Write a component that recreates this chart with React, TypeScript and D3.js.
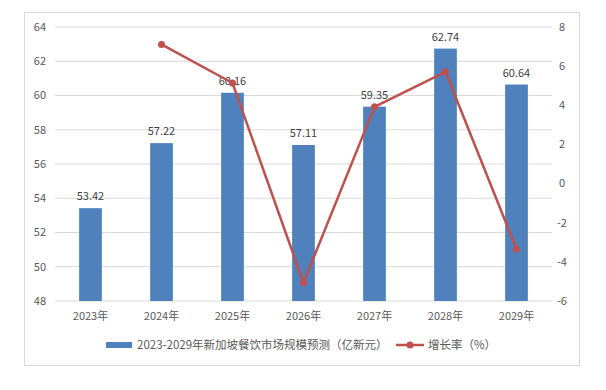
import React from "react";
import * as d3 from "d3";

const categories = ["2023年", "2024年", "2025年", "2026年", "2027年", "2028年", "2029年"];
const marketSize = [53.42, 57.22, 60.16, 57.11, 59.35, 62.74, 60.64];
const growthRate: (number | null)[] = [null, 7.11, 5.14, -5.07, 3.92, 5.71, -3.35];
const leftTicks = [48, 50, 52, 54, 56, 58, 60, 62, 64];
const rightTicks = [-6, -4, -2, 0, 2, 4, 6, 8];
const barLegend = "2023-2029年新加坡餐饮市场规模预测（亿新元）";
const lineLegend = "增长率（%）";

const W = 606;
const H = 390;
const FONT = "'Microsoft YaHei', 'Noto Sans CJK SC', sans-serif";
const TEXT = "#595959";
const BAR = "#4F81BD";
const LINE = "#C0504D";
const GRID = "#D9D9D9";

export default function App() {
  const left = 55, right = 552, top = 27, bottom = 301;
  const x = d3.scaleBand<string>().domain(categories).range([left, right]).paddingInner(0.68).paddingOuter(0.34);
  const yL = d3.scaleLinear().domain([48, 64]).range([bottom, top]);
  const yR = d3.scaleLinear().domain([-6, 8]).range([bottom, top]);
  const cx = (c: string) => (x(c) ?? 0) + x.bandwidth() / 2;
  const pts = categories
    .map((c, i) => ({ c, v: growthRate[i] }))
    .filter((d) => d.v !== null) as { c: string; v: number }[];
  const line = d3.line<{ c: string; v: number }>().x((d) => cx(d.c)).y((d) => yR(d.v));

  return (
    <svg width={W} height={H} style={{ position: "absolute", left: 0, top: 0, background: "#fff" }} fontFamily={FONT}>
      <rect x={24.5} y={12.5} width={555} height={353} fill="#fff" stroke={GRID} />
      {leftTicks.map((t) => (
        <g key={t}>
          <line x1={left} x2={right} y1={yL(t)} y2={yL(t)} stroke={GRID} strokeWidth={1} />
          <text x={46} y={yL(t)} dy="0.35em" textAnchor="end" fontSize={11} fill={TEXT}>{t}</text>
        </g>
      ))}
      {rightTicks.map((t) => (
        <text key={t} x={562} y={yR(t)} dy="0.35em" textAnchor="middle" fontSize={11} fill={TEXT}>{t}</text>
      ))}
      {categories.map((c, i) => (
        <g key={c}>
          <rect x={x(c)} y={yL(marketSize[i])} width={x.bandwidth()} height={bottom - yL(marketSize[i])} fill={BAR} />
          <text x={cx(c)} y={yL(marketSize[i]) - 8} textAnchor="middle" fontSize={11} fill="#404040">{marketSize[i].toFixed(2)}</text>
          <text x={cx(c)} y={bottom + 19} textAnchor="middle" fontSize={11} fill={TEXT}>{c}</text>
        </g>
      ))}
      <path d={line(pts) ?? ""} fill="none" stroke={LINE} strokeWidth={2.5} strokeLinejoin="round" />
      {pts.map((d) => (
        <circle key={d.c} cx={cx(d.c)} cy={yR(d.v)} r={3.5} fill={LINE} />
      ))}
      <g>
        <rect x={106} y={342} width={26} height={6} fill={BAR} />
        <text x={137} y={345} dy="0.35em" fontSize={11.5} fill={TEXT}>{barLegend}</text>
        <line x1={396} x2={424} y1={345} y2={345} stroke={LINE} strokeWidth={2.5} />
        <circle cx={410} cy={345} r={3.5} fill={LINE} />
        <text x={428} y={345} dy="0.35em" fontSize={11.5} fill={TEXT}>{lineLegend}</text>
      </g>
    </svg>
  );
}
